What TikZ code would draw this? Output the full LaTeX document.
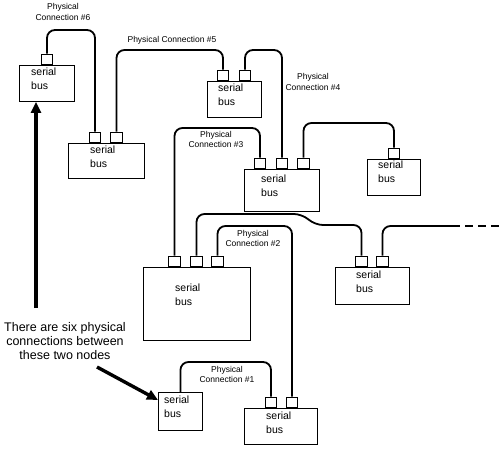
\documentclass[tikz,border=0pt]{standalone}
\usepackage{fontspec}
\setmainfont{Liberation Sans}
\usetikzlibrary{arrows.meta,calc}
\tikzset{
  busbox/.style  = {draw, line width=0.9pt, anchor=north west, inner sep=0pt},
  bustext/.style = {anchor=north west, inner sep=0pt, align=left, font=\fontsize{10.5}{14}\selectfont},
  port/.style    = {draw, line width=0.9pt, anchor=south, inner sep=0pt, minimum width=11.5, minimum height=10.5, fill=white},
  wire/.style    = {line width=1.8pt, rounded corners=8pt},
  conn/.style    = {align=center, font=\fontsize{8.5}{10.5}\selectfont, inner sep=0pt},
  pointer/.style = {line width=3.4pt, -{Triangle[length=11pt,width=10pt]}},
}
\begin{document}
\begin{tikzpicture}[x=1pt, y=-1pt]
  \useasboundingbox (0,0) rectangle (500,448);
  % boxes
  \node[busbox, minimum width=55, minimum height=36] (A) at (19,65) {};
  \node[busbox, minimum width=76, minimum height=35] (B) at (68,143) {};
  \node[busbox, minimum width=54, minimum height=36] (C) at (207,81) {};
  \node[busbox, minimum width=75, minimum height=42] (D) at (244,169) {};
  \node[busbox, minimum width=107, minimum height=73] (E) at (143,267) {};
  \node[busbox, minimum width=53, minimum height=36] (F) at (367,159) {};
  \node[busbox, minimum width=74, minimum height=37] (G) at (335,267) {};
  \node[busbox, minimum width=73, minimum height=36] (H) at (244,408) {};
  \node[busbox, minimum width=44, minimum height=38] (I) at (158,392) {};
  % box texts
  \node[bustext] (tA) at (31,68) {serial\\bus};
  \node[bustext] (tB) at (90,146) {serial\\bus};
  \node[bustext] (tC) at (218,84) {serial\\bus};
  \node[bustext] (tD) at (261,175) {serial\\bus};
  \node[bustext] (tE) at (175,284) {serial\\bus};
  \node[bustext] (tF) at (378,161) {serial\\bus};
  \node[bustext] (tG) at (356,271) {serial\\bus};
  \node[bustext] (tH) at (266,412) {serial\\bus};
  \node[bustext] (tI) at (164,396) {serial\\bus};
  % ports
  \node[port] (A1) at (47,65) {};
  \node[port] (B1) at (95,143) {};
  \node[port] (B2) at (116.5,143) {};
  \node[port] (C1) at (223,81) {};
  \node[port] (C2) at (245,81) {};
  \node[port] (D1) at (260,169) {};
  \node[port] (D2) at (282,169) {};
  \node[port] (D3) at (303.5,169) {};
  \node[port] (E1) at (174.5,267) {};
  \node[port] (E2) at (196.5,267) {};
  \node[port] (E3) at (217.5,267) {};
  \node[port] (F1) at (394,159) {};
  \node[port] (G1) at (361.5,267) {};
  \node[port] (G2) at (382.5,267) {};
  \node[port] (H1) at (271,408) {};
  \node[port] (H2) at (292,408) {};
  % wires
  \draw[wire] (A1.north) -- (A1.north |- 0,30) -| (B1.north);
  \draw[wire] (B2.north) -- (B2.north |- 0,50) -| (C1.north);
  \draw[wire] (C2.north) -- (C2.north |- 0,50) -| (D2.north);
  \draw[wire] (D1.north) -- (D1.north |- 0,128) -| (E1.north);
  \draw[wire] (D3.north) -- (D3.north |- 0,123) -| (F1.north);
  \draw[wire] (E2.north) |- (302,214) -- (315,225) -| (G1.north);
  \draw[wire] (E3.north) -- (E3.north |- 0,226) -| (H2.north);
  \draw[wire] (I.north) -- (I.north |- 0,362) -| (H1.north);
  \coordinate (cont) at (452,226);
  \coordinate (edge) at (500,226);
  \draw[wire] (G2.north) |- (cont);
  \draw[line width=1.8pt, dash pattern=on 8pt off 5pt] (cont) -- (edge);
  % labels
  \node[conn] (lab6) at (63,12) {Physical\\Connection \#6};
  \node[conn] (lab5) at (172,40) {Physical Connection \#5};
  \node[conn] (lab4) at (313,82) {Physical\\Connection \#4};
  \node[conn] (lab3) at (216,139.5) {Physical\\Connection \#3};
  \node[conn] (lab2) at (253,238.5) {Physical\\Connection \#2};
  \node[conn] (lab1) at (227,374.5) {Physical\\Connection \#1};
  % note
  \node[align=center, inner sep=0pt, font=\fontsize{12.5}{14}\selectfont] (note) at (65,341)
    {There are six physical\\connections between\\these two nodes};
  \coordinate (tailA) at (36,308);
  \coordinate (tailI) at (97,367);
  \draw[pointer] (tailA) -- (tailA |- A.south);
  \draw[pointer] (tailI) -- (I.north west |- 0,400);
\end{tikzpicture}
\end{document}
